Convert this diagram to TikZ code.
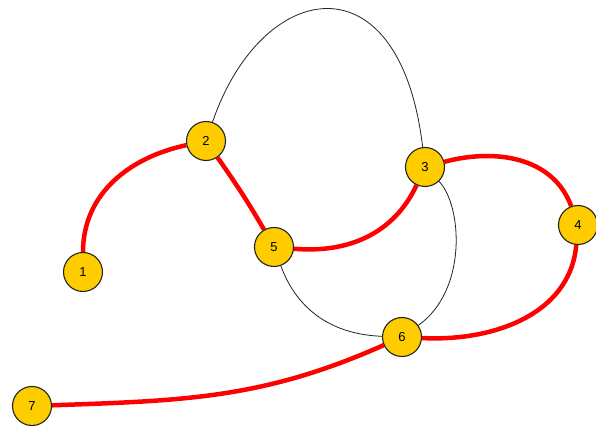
\documentclass[tikz,border=0pt]{standalone}
\usepackage{fontspec}
\setmainfont{Liberation Sans}
\usepackage{tikz}
\usetikzlibrary{positioning}
\usetikzlibrary{backgrounds}
\definecolor{vgold}{HTML}{FFCC00}
\definecolor{vline}{HTML}{222222}
\tikzset{
  vert/.style={circle, draw=vline, line width=1.1pt, fill=vgold, minimum size=39pt,
    inner sep=0pt, font=\fontsize{13}{13}\selectfont},
  pathedge/.style={red, line width=4.5pt},
  plainedge/.style={vline, line width=0.8pt}
}
\begin{document}
\begin{tikzpicture}[x=1pt, y=1pt]
\useasboundingbox (0,0) rectangle (596,430);

\node[vert] (n1) at (83,158) {1};
\node[vert] (n2) at (206,289) {2};
\node[vert] (n3) at (425,263) {3};
\node[vert] (n4) at (578,205) {4};
\node[vert] (n5) at (274,183) {5};
\node[vert] (n6) at (402,93) {6};
\node[vert] (n7) at (32,24) {7};

\begin{pgfonlayer}{background}
% thin edges
\draw[plainedge] (n2) .. controls (262,452) and (400,475) .. (n3);% top loop
\draw[plainedge] (n3) .. controls (462,225) and (468,140) .. (n6);
\draw[plainedge] (n5) to[out=-70, in=178] (n6);

% the red path 1-2-5-3-4-6-7
\draw[pathedge] (n1) to[out=90, in=192] (n2);
\draw[pathedge] (n2) to[out=-55, in=120] (n5);
\draw[pathedge] (n5) to[out=-5, in=-115] (n3);
\draw[pathedge] (n3) to[out=15, in=110] (n4);
\draw[pathedge] (n4) to[out=-95, in=-3] (n6);
\draw[pathedge] (n6) to[out=204, in=2] (n7);
\end{pgfonlayer}
\end{tikzpicture}
\end{document}
